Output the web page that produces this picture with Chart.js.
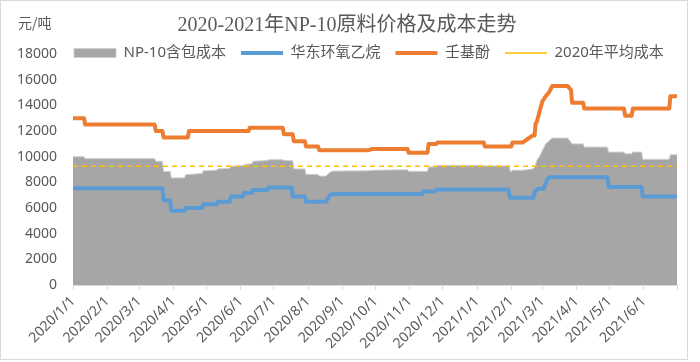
<!DOCTYPE html>
<html>
<head>
<meta charset="utf-8">
<script src="https://cdn.jsdelivr.net/npm/chart.js@4.4.1/dist/chart.umd.min.js"></script>
<style>
    html, body { margin: 0; padding: 0; background: #fff; }
    #wrap { width: 700px; height: 362px; }
</style>
</head>
<body>
<div id="wrap"><canvas id="myChart" width="700" height="362"></canvas></div>
<script>
// x axis: month ticks, the last one (axis end) has no label
const tickLabels = ['2020/1/1', '2020/2/1', '2020/3/1', '2020/4/1', '2020/5/1', '2020/6/1',
    '2020/7/1', '2020/8/1', '2020/9/1', '2020/10/1', '2020/11/1', '2020/12/1',
    '2021/1/1', '2021/2/1', '2021/3/1', '2021/4/1', '2021/5/1', '2021/6/1'];
const axisEnd = '2021/7/1';

// NP-10含包成本 (grey area)
const costDates = ['2020/1/1', '2020/1/11', '2020/1/12', '2020/3/15', '2020/3/16', '2020/3/22', '2020/3/23',
    '2020/3/29', '2020/3/30', '2020/4/11', '2020/4/12', '2020/4/27', '2020/4/28', '2020/5/10', '2020/5/11',
    '2020/5/22', '2020/5/23', '2020/6/3', '2020/6/4', '2020/6/11', '2020/6/12', '2020/6/25', '2020/6/26',
    '2020/7/9', '2020/7/10', '2020/7/18', '2020/7/19', '2020/7/29', '2020/7/30', '2020/8/10', '2020/8/11',
    '2020/8/17', '2020/8/21', '2020/8/24', '2020/9/24', '2020/9/28', '2020/10/30', '2020/10/31', '2020/11/17',
    '2020/11/18', '2020/11/25', '2020/11/26', '2021/1/7', '2021/1/8', '2021/1/30', '2021/1/31', '2021/2/1',
    '2021/2/2', '2021/2/11', '2021/2/20', '2021/2/22', '2021/2/24', '2021/2/27', '2021/3/4', '2021/3/8',
    '2021/3/10', '2021/3/24', '2021/3/28', '2021/4/7', '2021/4/8', '2021/4/29', '2021/4/30', '2021/5/14',
    '2021/5/15', '2021/5/21', '2021/5/22', '2021/5/30', '2021/5/31', '2021/6/24', '2021/6/25', '2021/7/1'];
const costValues = [10000, 10000, 9850, 9850, 9650, 9650, 8850,
    8850, 8350, 8350, 8600, 8700, 8900, 8950, 9050,
    9100, 9250, 9300, 9400, 9450, 9650, 9700, 9770,
    9770, 9700, 9700, 9050, 9050, 8620, 8620, 8490,
    8490, 8800, 8880, 8900, 8950, 8980, 8860, 8860,
    9200, 9200, 9320, 9320, 9280, 9280, 8860, 8860,
    8950, 8950, 9050, 9150, 9700, 10100, 11000, 11300,
    11450, 11450, 11000, 11000, 10750, 10750, 10360, 10360,
    10230, 10230, 10360, 10360, 9800, 9800, 10150, 10150];

// 华东环氧乙烷 (blue)
const eoDates = ['2020/1/1', '2020/3/22', '2020/3/23', '2020/3/29', '2020/3/30', '2020/4/11', '2020/4/12',
    '2020/4/27', '2020/4/28', '2020/5/10', '2020/5/11', '2020/5/22', '2020/5/23', '2020/6/3', '2020/6/4',
    '2020/6/11', '2020/6/12', '2020/6/25', '2020/6/26', '2020/7/17', '2020/7/18', '2020/7/29', '2020/7/30',
    '2020/8/17', '2020/8/21', '2020/8/24', '2020/11/12', '2020/11/13', '2020/11/24', '2020/11/25', '2021/1/29',
    '2021/1/31', '2021/2/21', '2021/2/22', '2021/2/25', '2021/3/2', '2021/3/6', '2021/3/8', '2021/4/29',
    '2021/4/30', '2021/5/30', '2021/5/31', '2021/7/1'];
const eoValues = [7550, 7550, 6600, 6600, 5800, 5800, 6000,
    6000, 6300, 6300, 6500, 6500, 6900, 6900, 7200,
    7200, 7400, 7400, 7600, 7600, 6900, 6900, 6500,
    6500, 7050, 7100, 7100, 7300, 7300, 7450, 7450,
    6800, 6800, 7250, 7500, 7500, 8300, 8400, 8400,
    7650, 7650, 6900, 6900];

// 壬基酚 (orange)
const npDates = ['2020/1/1', '2020/1/11', '2020/1/12', '2020/3/15', '2020/3/16', '2020/3/22', '2020/3/23',
    '2020/4/14', '2020/4/15', '2020/6/8', '2020/6/9', '2020/7/9', '2020/7/10', '2020/7/18', '2020/7/19',
    '2020/7/29', '2020/7/30', '2020/8/10', '2020/8/11', '2020/9/24', '2020/9/28', '2020/10/30', '2020/10/31',
    '2020/11/17', '2020/11/18', '2020/11/25', '2020/11/26', '2021/1/7', '2021/1/8', '2021/2/1', '2021/2/2',
    '2021/2/11', '2021/2/16', '2021/2/20', '2021/2/22', '2021/2/23', '2021/2/24', '2021/3/1', '2021/3/4',
    '2021/3/7', '2021/3/10', '2021/3/24', '2021/3/27', '2021/3/28', '2021/4/7', '2021/4/8', '2021/5/14',
    '2021/5/15', '2021/5/21', '2021/5/22', '2021/6/24', '2021/6/25', '2021/7/1'];
const npValues = [13000, 13000, 12500, 12500, 12000, 12000, 11500,
    11500, 12000, 12000, 12250, 12250, 11750, 11750, 11200,
    11200, 10800, 10800, 10500, 10500, 10600, 10600, 10300,
    10300, 11000, 11000, 11100, 11100, 10800, 10800, 11100,
    11100, 11400, 11650, 11650, 12600, 12700, 14300, 14700,
    15000, 15500, 15500, 15200, 14200, 14200, 13750, 13750,
    13200, 13200, 13750, 13750, 14700, 14700];

// 2020年平均成本 (dashed)
const avgCost = 9250;

function dayOf(s) {
    const p = s.split('/').map(Number);
    return (Date.UTC(p[0], p[1] - 1, p[2]) - Date.UTC(2020, 0, 1)) / 86400000;
}

function points(dates, values) {
    return dates.map((d, i) => ({ x: dayOf(d), y: values[i] }));
}

Chart.defaults.font.family = "'Noto Sans', 'Noto Sans CJK SC', sans-serif";
Chart.defaults.color = '#595959';

// legend sits on the top row of the plot, unit text and frame are drawn by hand
const extras = {
    id: 'extras',
    afterLayout(chart) {
        const lg = chart.legend;
        lg.left = 59;
        lg.right = 700;
        lg.top = 30.5;
        lg.bottom = 70;
    },
    afterDraw(chart) {
        const ctx = chart.ctx;
        ctx.save();
        ctx.font = "14px 'Noto Sans CJK SC'";
        ctx.fillStyle = '#595959';
        ctx.textBaseline = 'middle';
        ctx.fillText('元/吨', 18, 23);
        ctx.strokeStyle = '#d9d9d9';
        ctx.lineWidth = 1;
        ctx.strokeRect(0.5, 0.5, 687, 359);
        ctx.restore();
    }
};

const ctx = document.getElementById('myChart');

new Chart(ctx, {
    type: 'line',
    data: {
        datasets: [{
            label: 'NP-10含包成本',
            data: points(costDates, costValues),
            fill: 'origin',
            backgroundColor: '#A6A6A6',
            borderColor: '#cfcfcf',
            borderWidth: 1,
            pointRadius: 0,
            order: 4
        }, {
            label: '华东环氧乙烷',
            data: points(eoDates, eoValues),
            fill: false,
            borderColor: '#5B9BD5',
            backgroundColor: '#5B9BD5',
            borderWidth: 4,
            borderJoinStyle: 'round',
            pointRadius: 0,
            order: 2
        }, {
            label: '壬基酚',
            data: points(npDates, npValues),
            fill: false,
            borderColor: '#ED7D31',
            backgroundColor: '#ED7D31',
            borderWidth: 4,
            borderJoinStyle: 'round',
            pointRadius: 0,
            order: 1
        }, {
            label: '2020年平均成本',
            data: [{ x: 0, y: avgCost }, { x: dayOf(axisEnd), y: avgCost }],
            fill: false,
            borderColor: '#FFC000',
            backgroundColor: '#FFC000',
            borderWidth: 1.5,
            borderDash: [5, 4],
            pointRadius: 0,
            order: 3
        }]
    },
    options: {
        responsive: false,
        animation: false,
        devicePixelRatio: 1,
        layout: { padding: { left: 17, right: 23, bottom: 7 } },
        plugins: {
            title: {
                display: true,
                text: '2020-2021年NP-10原料价格及成本走势',
                font: { family: "'Liberation Serif', 'Noto Sans CJK SC', serif", size: 20, weight: 'normal' },
                color: '#595959',
                padding: { top: 14, bottom: 15 }
            },
            legend: {
                position: 'top',
                align: 'start',
                maxHeight: 1,
                labels: {
                    usePointStyle: true,
                    pointStyleWidth: 42,
                    boxHeight: 9,
                    padding: 15,
                    font: { size: 15 },
                    color: '#595959',
                    sort: (a, b) => a.datasetIndex - b.datasetIndex,
                    generateLabels: (chart) => {
                        const items = Chart.defaults.plugins.legend.labels.generateLabels(chart);
                        items.forEach(it => { it.pointStyle = it.datasetIndex === 0 ? 'rect' : 'line'; });
                        return items;
                    }
                }
            },
            tooltip: { enabled: false }
        },
        scales: {
            x: {
                type: 'linear',
                min: 0,
                max: dayOf(axisEnd),
                afterBuildTicks: (scale) => {
                    scale.ticks = tickLabels.concat([axisEnd]).map(s => ({ value: dayOf(s) }));
                },
                afterFit: (scale) => { scale.paddingLeft = 0; },
                ticks: {
                    minRotation: 45,
                    maxRotation: 45,
                    autoSkip: false,
                    font: { size: 14 },
                    callback: (v, i) => tickLabels[i] || ''
                },
                grid: { drawOnChartArea: false, tickLength: 5, color: '#d9d9d9' },
                border: { color: '#d9d9d9' }
            },
            y: {
                min: 0,
                max: 18000,
                afterFit: (scale) => { scale.width = 56; },
                ticks: {
                    stepSize: 2000,
                    padding: 16,
                    font: { size: 14 },
                    callback: (v) => String(v)
                },
                grid: { display: false, drawTicks: false },
                border: { display: false }
            }
        }
    },
    plugins: [extras]
});
</script>
</body>
</html>
